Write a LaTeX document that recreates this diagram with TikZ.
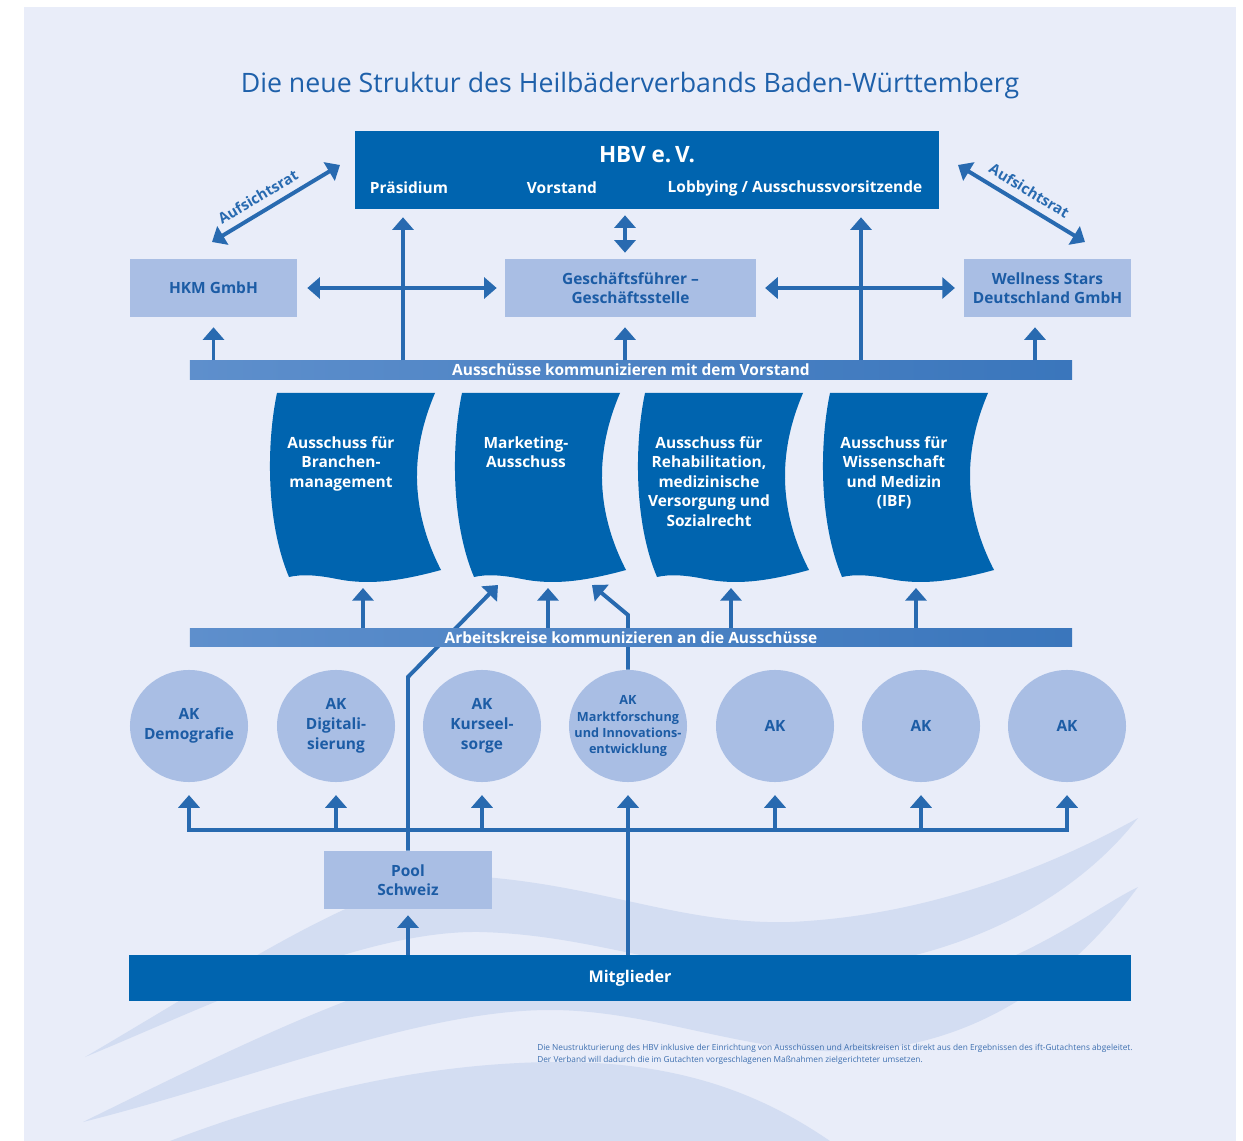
\documentclass[tikz,border=0pt]{standalone}
\usepackage{fontspec}
\setmainfont{Open Sans}
\usepackage{tikz}
\usetikzlibrary{arrows.meta, positioning, shapes.geometric, calc}

\definecolor{hbvblue}{RGB}{0,100,175}
\definecolor{hbvlight}{RGB}{169,190,228}
\definecolor{hbvtext}{RGB}{28,92,165}
\definecolor{hbvarrow}{RGB}{40,106,176}
\definecolor{hbvbg}{RGB}{233,237,249}
\definecolor{hbvwave}{RGB}{211,221,242}
\definecolor{barleft}{RGB}{94,143,204}
\definecolor{barright}{RGB}{58,118,188}
\definecolor{titleblue}{RGB}{30,96,170}
\definecolor{notecol}{RGB}{60,110,175}

\tikzset{
  darkbox/.style={rectangle, fill=hbvblue, inner sep=0pt},
  hbvhead/.style={text=white, font=\fontsize{16}{18}\selectfont\bfseries, inner sep=0pt},
  hbvsub/.style={text=white, font=\fontsize{11}{13}\selectfont\bfseries, inner sep=0pt},
  lightbox/.style={
    rectangle, fill=hbvlight, text=hbvtext,
    font=\fontsize{11}{13.5}\selectfont\bfseries,
    align=center, inner sep=0pt,
    minimum width=4.175cm, minimum height=1.45cm
  },
  commbar/.style={
    rectangle, left color=barleft, right color=barright,
    text=white, font=\fontsize{11}{12}\selectfont\bfseries,
    minimum width=22.05cm, minimum height=0.47cm, inner sep=0pt
  },
  akcircle/.style={
    ellipse, fill=hbvlight, inner sep=0pt,
    minimum width=2.95cm, minimum height=2.8cm
  },
  aktext/.style={text=hbvtext, font=\fontsize{11}{14.2}\selectfont\bfseries,
    align=center, inner sep=0pt},
  flagtext/.style={text=white, font=\fontsize{11}{13.9}\selectfont\bfseries,
    align=center, anchor=north, inner sep=0pt},
  auftext/.style={text=hbvarrow, font=\fontsize{10.5}{12}\selectfont\bfseries, sloped, above=2pt},
  arrowU/.style={-{Triangle[width=15pt,length=9pt]}, line width=2.8pt, hbvarrow},
  arrowD/.style={{Triangle[width=15pt,length=9pt]}-{Triangle[width=15pt,length=9pt]},
    line width=2.8pt, hbvarrow},
  feed/.style={line width=2.8pt, hbvarrow, line cap=rect}
}

\begin{document}
\begin{tikzpicture}[x=0.025cm, y=-0.025cm]
  \useasboundingbox (0,0) rectangle (1243,1141);
  % Draw background
  \fill[white] (0,0) rectangle (1243,1141);
  \fill[hbvbg] (24,7) rectangle (1236,1141);

  % Draw waves
  \fill[hbvwave] (85,1057) .. controls (250,960) and (380,872) .. (470,876)
    .. controls (600,884) and (680,925) .. (790,922)
    .. controls (950,915) and (1080,850) .. (1138,818)
    .. controls (1070,905) and (950,965) .. (800,972)
    .. controls (680,977) and (600,935) .. (480,932)
    .. controls (360,930) and (200,1010) .. (85,1057) -- cycle;
  \fill[hbvwave] (83,1122) .. controls (250,1040) and (420,955) .. (540,955)
    .. controls (660,955) and (760,1000) .. (870,995)
    .. controls (1000,985) and (1090,910) .. (1138,887)
    .. controls (1070,980) and (980,1040) .. (870,1050)
    .. controls (760,1060) and (660,1010) .. (550,1010)
    .. controls (420,1010) and (250,1080) .. (83,1122) -- cycle;
  \fill[hbvwave] (170,1141) .. controls (330,1080) and (460,1062) .. (560,1062)
    .. controls (690,1062) and (770,1100) .. (830,1141) -- cycle;

  % Title
  \node[font=\fontsize{19}{21}\selectfont, text=titleblue] (title) at (630,86)
    {Die neue Struktur des Heilbäderverbands Baden-Württemberg};

  % HBV board
  \node[darkbox, minimum width=14.6cm, minimum height=1.95cm] (hbv) at (647,170) {};
  \node[hbvhead] (hbvname) at (647,155) {HBV e.\,V.};
  \node[hbvsub] (praes) at (409,188) {Präsidium};
  \node[hbvsub] (vorst) at (562,188) {Vorstand};
  \node[hbvsub] (lobby) at (795,188) {Lobbying / Ausschussvorsitzende};

  % Second row
  \node[lightbox] (hkm) at (213.5,288) {HKM GmbH};
  \node[lightbox, minimum width=6.275cm] (gf) at (630.5,288) {Geschäftsführer –\\Geschäftsstelle};
  \node[lightbox] (wsd) at (1047.5,288) {Wellness Stars\\Deutschland GmbH};

  % Upper bar
  \node[commbar] (bar1) at (631,370) {Ausschüsse kommunizieren mit dem Vorstand};

  % Aufsichtsrat links
  \coordinate (ar1) at (212,242);
  \coordinate (ar2) at (340,165);
  \coordinate (ar3) at (958,165);
  \coordinate (ar4) at (1085,242);
  \draw[arrowD] (ar1) -- node[auftext, pos=0.42] (auf1) {Aufsichtsrat} (ar2);
  \draw[arrowD] (ar3) -- node[auftext, pos=0.5] (auf2) {Aufsichtsrat} (ar4);

  % Arrows around the Geschaeftsstelle
  \coordinate (gP) at (403,0);
  \coordinate (gL) at (861,0);
  \coordinate (gW) at (1035,0);
  \coordinate (gG) at (625,0);
  \draw[arrowD, shorten <=0.15cm, shorten >=0.15cm] (gf.north -| gG) -- (hbv.south -| gG);
  \draw[arrowD, shorten <=0.25cm, shorten >=0.2cm] (hkm.east) -- (gf.west);
  \draw[arrowD, shorten <=0.22cm, shorten >=0.22cm] (gf.east) -- (wsd.west);
  \draw[arrowU, shorten >=0.2cm] (bar1.north -| gP) -- (hbv.south -| gP);
  \draw[arrowU, shorten >=0.2cm] (bar1.north -| gL) -- (hbv.south -| gL);
  \draw[arrowU, shorten >=0.25cm] (bar1.north -| hkm.south) -- (hkm.south);
  \draw[arrowU, shorten >=0.25cm] (bar1.north -| gG) -- (gf.south -| gG);
  \draw[arrowU, shorten >=0.25cm] (bar1.north -| gW) -- (wsd.south -| gW);

  % Working groups
  \foreach \n/\x/\t in {1/189/{AK\\Demografie}, 2/336/{AK\\Digitali-\\sierung},
                        3/482/{AK\\Kurseel-\\sorge}, 5/775/AK, 6/921/AK, 7/1067/AK} {
    \node[akcircle] (ak\n) at (\x,726) {};
    \node[aktext] (akt\n) at (ak\n) {\t};
  }
  \node[akcircle] (ak4) at (628,726) {};
  \node[aktext, font=\fontsize{9}{11.4}\selectfont\bfseries] (akt4) at (ak4)
    {AK\\Marktforschung\\und Innovations-\\entwicklung};

  % Members and pool
  \node[darkbox, minimum width=25.05cm, minimum height=1.15cm, text=white,
    font=\fontsize{11.5}{13}\selectfont\bfseries] (mitgl) at (630,978) {Mitglieder};
  \node[lightbox] (pool) at (408,880) {Pool\\Schweiz};

  % Direct links to the marketing committee
  \coordinate (pk1) at (408,677);
  \coordinate (pk2) at (498,585);
  \coordinate (mk1) at (628,615);
  \coordinate (mk2) at (592,585);
  \draw[arrowU] (pool.north) -- (pk1) -- (pk2);
  \draw[arrowU] (ak4.north) -- (mk1) -- (mk2);

  % Lower bar
  \node[commbar] (bar2) at (631,637.5) {Arbeitskreise kommunizieren an die Ausschüsse};

  % Committees
  \foreach \x/\n/\t in {277/1/{Ausschuss für\\Branchen-\\management},
                        462/2/{Marketing-\\Ausschuss},
                        645/3/{Ausschuss für\\Rehabilitation,\\medizinische\\Versorgung und\\Sozialrecht},
                        830/4/{Ausschuss für\\Wissenschaft\\und Medizin\\(IBF)}} {
    \fill[hbvblue] (\x,393) -- ({\x+158},393)
      .. controls ({\x+138},440) and ({\x+128},500) .. ({\x+164},570)
      .. controls ({\x+120},582) and ({\x+90},585) .. ({\x+60},579)
      .. controls ({\x+40},575) and ({\x+25},574) .. ({\x+12},577)
      .. controls ({\x-12},520) and ({\x-10},440) .. (\x,393) -- cycle;
    \node[flagtext] (aus\n) at ({\x+64},436) {\t};
    \coordinate (fb\n) at ({\x+86},588);
    \draw[arrowU] (bar2.north -| fb\n) -- (fb\n);
  }

  % Feed lines from the bottom
  \coordinate (rail) at (0,830);
  \draw[feed] (ak1.south |- rail) -- (ak7.south |- rail);
  \foreach \n in {1,2,3,5,6,7}
    \draw[arrowU, line cap=rect, shorten >=0.32cm] (ak\n.south |- rail) -- (ak\n.south);
  \draw[arrowU, shorten >=0.32cm] (mitgl.north -| ak4.south) -- (ak4.south);
  \draw[arrowU, shorten >=0.15cm] (mitgl.north -| pool.south) -- (pool.south);

  % Footnote
  \node[anchor=north west, align=left, inner sep=0pt, text=notecol,
    font=\fontsize{5.9}{8.5}\selectfont] (note) at (537,1044)
    {Die Neustrukturierung des HBV inklusive der Einrichtung von Ausschüssen und Arbeitskreisen ist direkt aus den Ergebnissen des ift-Gutachtens abgeleitet.\\
     Der Verband will dadurch die im Gutachten vorgeschlagenen Maßnahmen zielgerichteter umsetzen.};
\end{tikzpicture}
\end{document}
